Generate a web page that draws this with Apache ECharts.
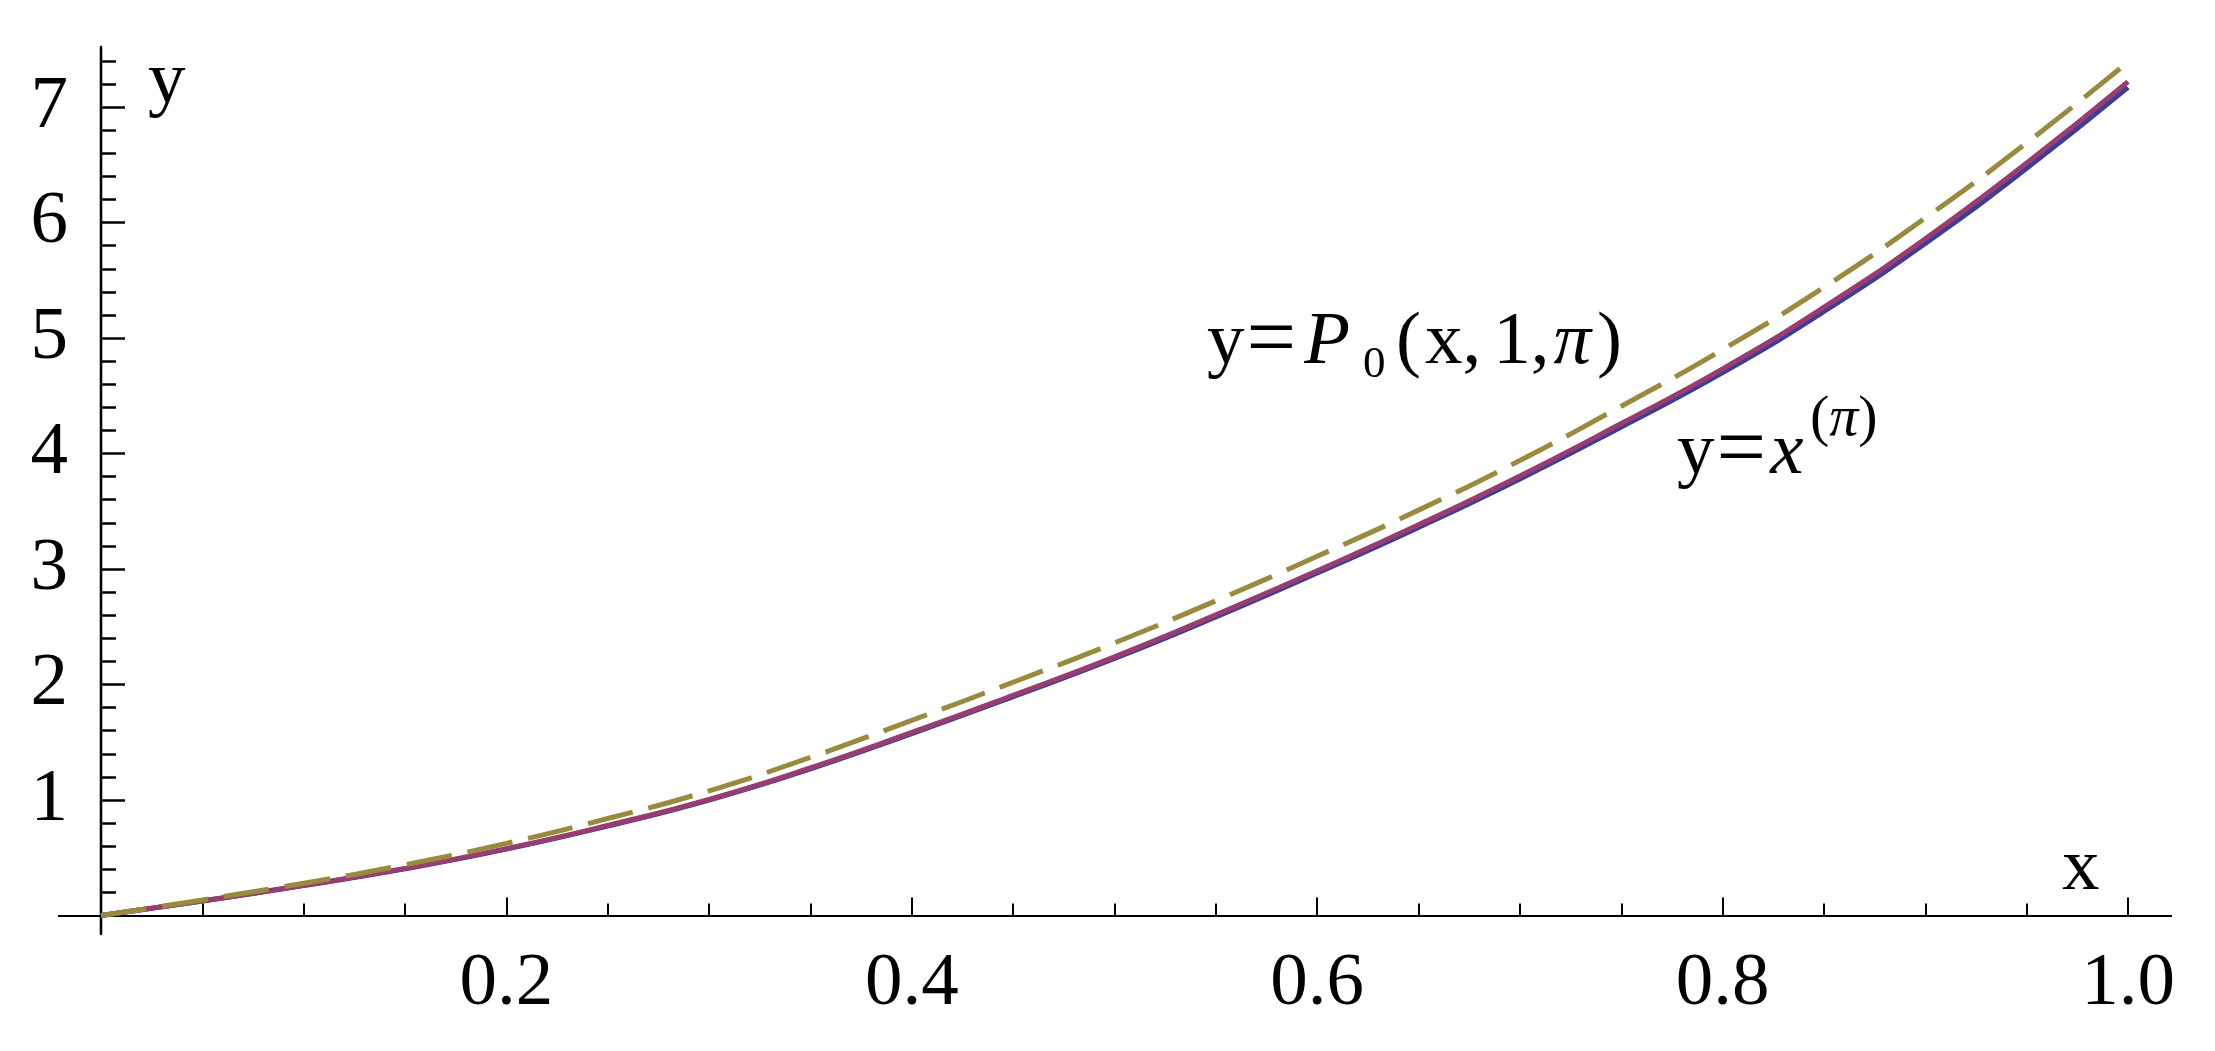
<!DOCTYPE html>
<html>
<head>
<meta charset="utf-8">
<title>P0(x,1,pi) against x^(pi)</title>
<script src="https://cdn.jsdelivr.net/npm/echarts@6/dist/echarts.min.js"></script>
<style>
  html, body { margin: 0; padding: 0; background: #fff; }
  #chart { width: 2215px; height: 1051px; }
</style>
</head>
<body>
<div id="chart"></div>
<script>
// values, x step 0.05
var xValues = [0, 0.05, 0.1, 0.15, 0.2, 0.25, 0.3, 0.35, 0.4, 0.45, 0.5,
  0.55, 0.6, 0.65, 0.7, 0.75, 0.8, 0.85, 0.9, 0.95, 1.0];
var powerCurve = [0, 0.125, 0.26, 0.405, 0.575, 0.775, 1.0, 1.27, 1.575, 1.895, 2.225,
  2.585, 2.965, 3.36, 3.78, 4.23, 4.7, 5.23, 5.82, 6.47, 7.17];
var exactCurve = [0, 0.126, 0.262, 0.408, 0.579, 0.78, 1.006, 1.278, 1.585, 1.907, 2.24,
  2.603, 2.985, 3.383, 3.806, 4.26, 4.733, 5.267, 5.86, 6.515, 7.22];
var p0Curve = [0, 0.135, 0.28, 0.44, 0.625, 0.84, 1.08, 1.37, 1.69, 2.02, 2.36,
  2.725, 3.11, 3.51, 3.94, 4.41, 4.9, 5.44, 6.04, 6.69, 7.39];

var xMajorTicks = [0.2, 0.4, 0.6, 0.8, 1.0];
var xMinorTicks = [0.05, 0.1, 0.15, 0.25, 0.3, 0.35, 0.45, 0.5, 0.55, 0.65, 0.7, 0.75,
  0.85, 0.9, 0.95];
var yMajorTicks = [1, 2, 3, 4, 5, 6, 7];
var yMinorTicks = [0.2, 0.4, 0.6, 0.8, 1.2, 1.4, 1.6, 1.8, 2.2, 2.4, 2.6, 2.8, 3.2, 3.4,
  3.6, 3.8, 4.2, 4.4, 4.6, 4.8, 5.2, 5.4, 5.6, 5.8, 6.2, 6.4, 6.6, 6.8, 7.2, 7.4];

var SERIF = "'Liberation Serif', 'DejaVu Serif', serif";

function pairs(ys) {
  return xValues.map(function (x, i) {
    return [x, ys[i]];
  });
}

// labels sit on the grid edge, not on the zero line, so margins are from there
function xAxisFor(ticks, len, withLabels) {
  return {
    type: "value",
    position: "bottom",
    min: -0.0207,
    max: 1.0212,
    axisLine: {
      show: true,
      onZero: true,
      onZeroAxisIndex: 0,
      lineStyle: { color: "#000", width: 2 },
    },
    axisTick: {
      show: true,
      inside: true,
      length: len,
      customValues: ticks,
      lineStyle: { color: "#000", width: 2 },
    },
    axisLabel: {
      show: withLabels,
      customValues: ticks,
      margin: 13,
      color: "#000",
      fontFamily: SERIF,
      fontSize: 75,
      formatter: function (v) {
        return v.toFixed(1);
      },
    },
    splitLine: { show: false },
  };
}

function yAxisFor(ticks, len, withLabels) {
  return {
    type: "value",
    position: "left",
    min: -0.16,
    max: 7.52,
    axisLine: {
      show: true,
      onZero: true,
      onZeroAxisIndex: 0,
      lineStyle: { color: "#000", width: 2.3 },
    },
    axisTick: {
      show: true,
      inside: true,
      length: len,
      customValues: ticks,
      lineStyle: { color: "#000", width: 2.5 },
    },
    axisLabel: {
      show: withLabels,
      customValues: ticks,
      margin: -9,
      color: "#000",
      fontFamily: SERIF,
      fontSize: 75,
    },
    splitLine: { show: false },
  };
}

function curve(name, ys, color, dash) {
  return {
    name: name,
    type: "line",
    xAxisIndex: 0,
    yAxisIndex: 0,
    data: pairs(ys),
    smooth: 0.5,
    showSymbol: false,
    silent: true,
    lineStyle: {
      color: color,
      width: 5,
      type: dash ? [46, 16] : "solid",
      cap: "butt",
    },
  };
}

var chart = echarts.init(document.getElementById("chart"));
chart.setOption({
  animation: false,
  backgroundColor: "#fff",
  grid: { left: 59, right: 44, top: 47, bottom: 117, containLabel: false, outerBoundsMode: "none" },
  xAxis: [xAxisFor(xMajorTicks, 18, true), xAxisFor(xMinorTicks, 12, false)],
  yAxis: [yAxisFor(yMajorTicks, 24, true), yAxisFor(yMinorTicks, 15, false)],
  series: [
    curve("y=x^(π)", powerCurve, "#3d3d99", false),
    curve("exact", exactCurve, "#993d71", false),
    curve("y=P0(x,1,π)", p0Curve, "#998b3d", true),
  ],
  graphic: [
    {
      type: "text",
      x: 148,
      y: 82,
      style: { text: "y", fontFamily: SERIF, fontSize: 75, fill: "#000", verticalAlign: "middle" },
    },
    {
      type: "text",
      x: 2062,
      y: 869,
      style: { text: "x", fontFamily: SERIF, fontSize: 75, fill: "#000", verticalAlign: "middle" },
    },
    // y = P_0(x,1,pi)
    {
      type: "text",
      x: 1207,
      y: 343,
      style: {
        text: "{u|y}{eq|=}{i|P}",
        verticalAlign: "middle",
        rich: {
          u: { fontFamily: SERIF, fontSize: 75, fill: "#000" },
          eq: { fontFamily: SERIF, fontSize: 88, fill: "#000", padding: [0, 8, 0, 2] },
          i: { fontFamily: SERIF, fontSize: 75, fontStyle: "italic", fill: "#000" },
        },
      },
    },
    {
      type: "text",
      x: 1363,
      y: 365,
      style: { text: "0", fontFamily: SERIF, fontSize: 45, fill: "#000", verticalAlign: "middle" },
    },
    {
      type: "text",
      x: 1396,
      y: 343,
      style: {
        text: "{u|(}{v|x}{u|,}{u1|1,}{i|π}{u|)}",
        verticalAlign: "middle",
        rich: {
          u: { fontFamily: SERIF, fontSize: 75, fill: "#000" },
          v: { fontFamily: SERIF, fontSize: 75, fill: "#000", padding: [0, 0, 0, 4] },
          u1: { fontFamily: SERIF, fontSize: 75, fill: "#000", padding: [0, 0, 0, 12] },
          i: { fontFamily: SERIF, fontSize: 75, fontStyle: "italic", fill: "#000", padding: [0, 6, 0, 4] },
        },
      },
    },
    // y = x^(pi)
    {
      type: "text",
      x: 1677,
      y: 453,
      style: {
        text: "{u|y}{eq|=}{i|x}",
        verticalAlign: "middle",
        rich: {
          u: { fontFamily: SERIF, fontSize: 75, fill: "#000" },
          eq: { fontFamily: SERIF, fontSize: 88, fill: "#000", padding: [0, 4, 0, 2] },
          i: { fontFamily: SERIF, fontSize: 75, fontStyle: "italic", fill: "#000" },
        },
      },
    },
    {
      type: "text",
      x: 1810,
      y: 420,
      style: {
        text: "{u|(}{i|π}{u|)}",
        verticalAlign: "middle",
        rich: {
          u: { fontFamily: SERIF, fontSize: 58, fill: "#000" },
          i: { fontFamily: SERIF, fontSize: 58, fontStyle: "italic", fill: "#000" },
        },
      },
    },
  ],
});
</script>
</body>
</html>
